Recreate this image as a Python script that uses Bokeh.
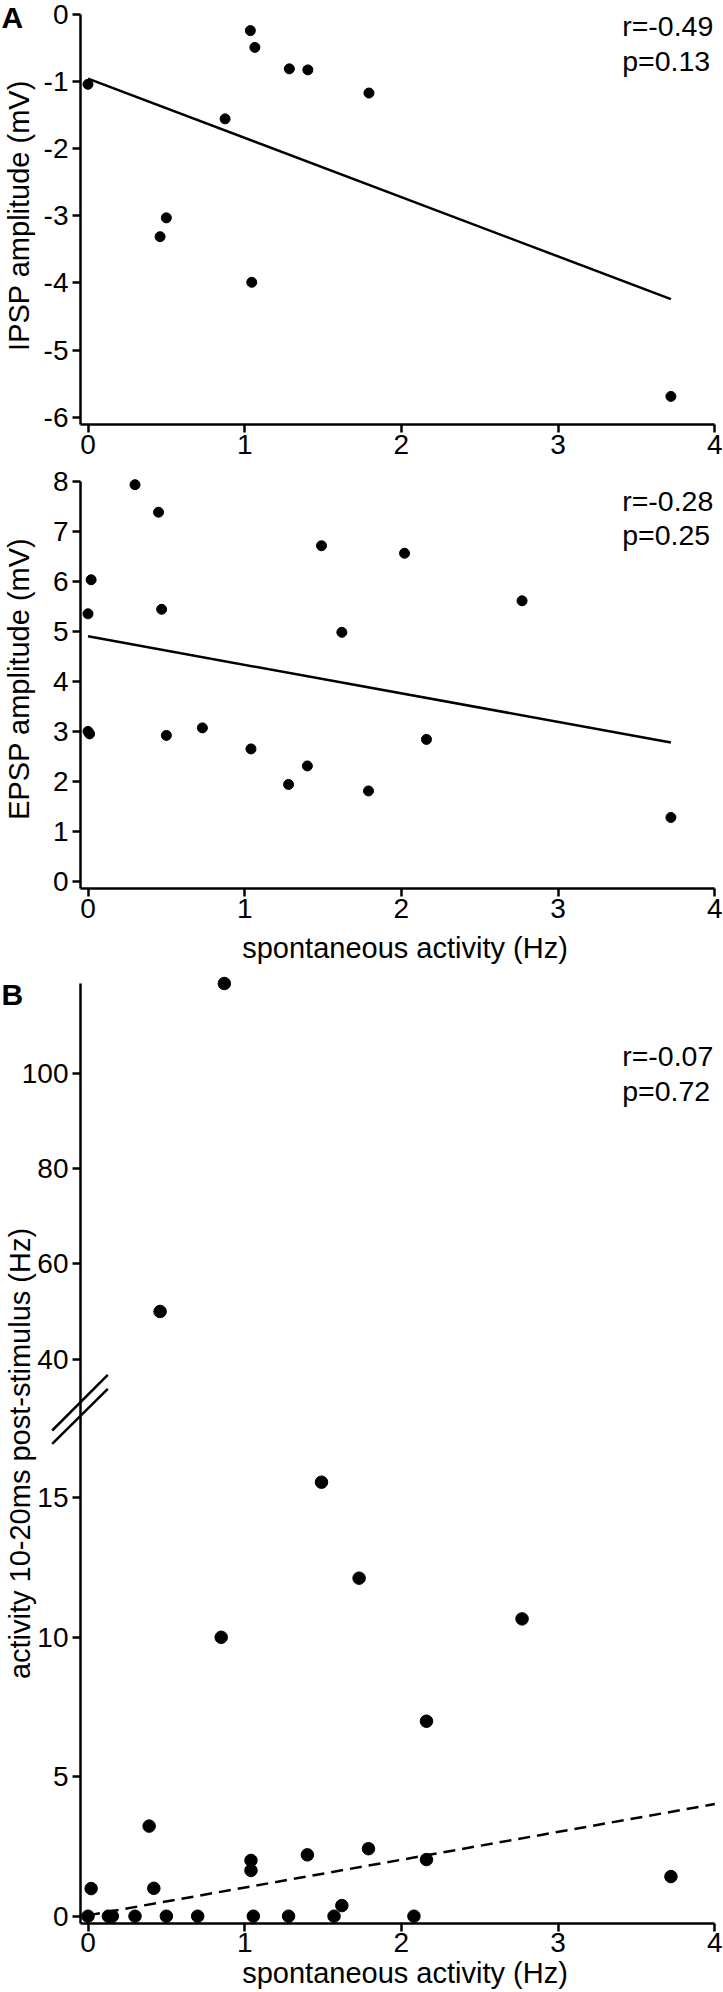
import math
from bokeh.plotting import figure
from bokeh.layouts import column
from bokeh.models import Range1d, FixedTicker, Label, Arrow
from bokeh.embed import file_html
from bokeh.resources import INLINE

FONT = "Liberation Sans"

# ---------------- data ----------------
x_ticks = [0, 1, 2, 3, 4]
x_tick_labels = ["0", "1", "2", "3", "4"]
x_title = "spontaneous activity (Hz)"

# A (top): IPSP amplitude vs spontaneous activity
ipsp_x = [0.0, 1.036, 1.065, 1.285, 1.403, 1.793, 0.875, 0.50, 0.46, 1.045, 3.72]
ipsp_y = [-1.04, -0.24, -0.49, -0.81, -0.825, -1.17, -1.555, -3.03, -3.31, -3.99, -5.69]
ipsp_fit_x = [0.0, 3.72]
ipsp_fit_y = [-0.955, -4.24]
ipsp_ticks = [0, -1, -2, -3, -4, -5, -6]
ipsp_tick_labels = ["0", "-1", "-2", "-3", "-4", "-5", "-6"]
ipsp_title = "IPSP amplitude (mV)"
ipsp_stats = ["r=-0.49", "p=0.13"]

# A (bottom): EPSP amplitude vs spontaneous activity
epsp_x = [0.30, 0.45, 0.02, 0.0, 0.47, 1.49, 2.02, 2.77, 1.62, 0.0, 0.01,
          0.50, 0.73, 1.04, 2.16, 1.40, 1.28, 1.79, 3.72]
epsp_y = [7.93, 7.38, 6.03, 5.35, 5.44, 6.71, 6.56, 5.61, 4.98, 3.00, 2.95,
          2.92, 3.07, 2.65, 2.84, 2.31, 1.94, 1.81, 1.28]
epsp_fit_x = [0.0, 3.72]
epsp_fit_y = [4.90, 2.78]
epsp_ticks = [0, 1, 2, 3, 4, 5, 6, 7, 8]
epsp_tick_labels = ["0", "1", "2", "3", "4", "5", "6", "7", "8"]
epsp_title = "EPSP amplitude (mV)"
epsp_stats = ["r=-0.28", "p=0.25"]

# B: activity 10-20 ms post-stimulus vs spontaneous activity (broken axis)
act_x = [0.87, 0.46, 1.49, 1.73, 2.77, 0.85, 2.16, 0.39, 1.79, 1.40, 1.04, 1.04,
         2.16, 3.72, 0.02, 0.42, 1.62, 0.0, 0.13, 0.155, 0.30, 0.50, 0.70, 1.055,
         1.28, 1.57, 2.08]
act_y = [119.0, 50.0, 15.56, 12.12, 10.66, 10.0, 6.99, 3.23, 2.42, 2.20, 2.00, 1.64,
         2.03, 1.42, 0.99, 1.00, 0.38, 0.0, 0.0, 0.0, 0.0, 0.0, 0.0, 0.0,
         0.0, 0.0, 0.0]
act_fit_x = [0.0, 4.0]
act_fit_y = [0.03, 4.02]
act_break = 30.0
act_low_ticks = [0, 5, 10, 15]
act_low_tick_labels = ["0", "5", "10", "15"]
act_high_ticks = [40, 60, 80, 100]
act_high_tick_labels = ["40", "60", "80", "100"]
act_title = "activity 10-20ms post-stimulus (Hz)"
act_stats = ["r=-0.07", "p=0.72"]

# ---------------- layout constants ----------------
LW = 2.5
W = 723
PX_PER_X = 156.7
X0_PX = 87.5                      # pixel column of x = 0
X_START = -X0_PX / PX_PER_X
X_END = X_START + W / PX_PER_X
Y_AXIS_AT = (80 - X0_PX) / PX_PER_X   # where the y axis line sits

H1, H2, H3 = 465, 510, 1017
Y1 = (-6.7193, 0.2086)
Y1_SPINE = -6.113
Y2 = (-1.878, 8.3137)
Y2_SPINE = -0.1455
LOW = (-2.736, 33.729)
UP = (-93.28, 120.685)
LOW_SPINE = -0.251


def to_low(v):
    return LOW[0] + (v - UP[0]) / (UP[1] - UP[0]) * (LOW[1] - LOW[0])


def make_fig(height, yr, y_spine):
    p = figure(width=W, height=height, x_range=Range1d(X_START, X_END),
               y_range=Range1d(*yr), output_backend="svg", toolbar_location=None,
               min_border=0, min_border_left=0, min_border_right=0,
               min_border_top=0, min_border_bottom=0)
    p.outline_line_color = None
    p.xgrid.visible = False
    p.ygrid.visible = False
    p.background_fill_color = "white"
    p.border_fill_color = "white"
    for ax in [p.xaxis[0], p.yaxis[0]]:
        ax.axis_line_width = LW
        ax.axis_line_color = "black"
        ax.major_tick_line_width = LW
        ax.major_tick_line_color = "black"
        ax.major_tick_out = 8
        ax.major_tick_in = 0
        ax.minor_tick_line_color = None
        ax.major_label_text_font = FONT
        ax.major_label_text_font_size = "28px"
        ax.major_label_text_color = "black"
    xa = p.xaxis[0]
    xa.fixed_location = y_spine
    xa.ticker = FixedTicker(ticks=x_ticks)
    xa.major_label_overrides = dict(zip(x_ticks, x_tick_labels))
    xa.bounds = (Y_AXIS_AT, max(x_ticks))
    xa.major_label_standoff = 2
    ya = p.yaxis[0]
    ya.fixed_location = Y_AXIS_AT
    ya.major_label_standoff = 4
    return p


def text_at(p, text, px, py, size="29px", align="left", angle=0.0, bold=False):
    p.add_layout(Label(x=p.x_range.start, y=p.y_range.end, x_offset=px, y_offset=-py,
                       text=text, text_font=FONT, text_font_size=size,
                       text_align=align, text_baseline="middle", angle=angle,
                       text_color="black",
                       text_font_style="bold" if bold else "normal"))


STAT_PX = 621.7
STAT_SIZE = "28.5px"
TITLE_X_PX = 404.5

# ---- Panel A top ----
p1 = make_fig(H1, Y1, Y1_SPINE)
p1.yaxis[0].ticker = FixedTicker(ticks=ipsp_ticks)
p1.yaxis[0].major_label_overrides = dict(zip(ipsp_ticks, ipsp_tick_labels))
p1.yaxis[0].bounds = (Y1_SPINE, max(ipsp_ticks))
p1.line(ipsp_fit_x, ipsp_fit_y, line_width=LW, line_color="black")
p1.scatter(ipsp_x, ipsp_y, size=10, color="black")
text_at(p1, ipsp_stats[0], STAT_PX, 25.2, size=STAT_SIZE)
text_at(p1, ipsp_stats[1], STAT_PX, 60.2, size=STAT_SIZE)
text_at(p1, ipsp_title, 18.5, 215, align="center", angle=math.pi / 2)
text_at(p1, "A", 1, 17, size="30px", bold=True)

# ---- Panel A bottom ----
p2 = make_fig(H2, Y2, Y2_SPINE)
p2.yaxis[0].ticker = FixedTicker(ticks=epsp_ticks)
p2.yaxis[0].major_label_overrides = dict(zip(epsp_ticks, epsp_tick_labels))
p2.yaxis[0].bounds = (Y2_SPINE, max(epsp_ticks))
p2.line(epsp_fit_x, epsp_fit_y, line_width=LW, line_color="black")
p2.scatter(epsp_x, epsp_y, size=10, color="black")
text_at(p2, epsp_stats[0], STAT_PX, 35.2, size=STAT_SIZE)
text_at(p2, epsp_stats[1], STAT_PX, 69.5, size=STAT_SIZE)
text_at(p2, epsp_title, 18.5, 213.3, align="center", angle=math.pi / 2)
text_at(p2, x_title, TITLE_X_PX, 482.2, align="center")

# ---- Panel B (broken axis) ----
p3 = make_fig(H3, LOW, LOW_SPINE)
p3.extra_y_ranges = {"upper": Range1d(*UP)}
ya = p3.yaxis[0]
b_ticks = act_low_ticks + [round(to_low(v), 6) for v in act_high_ticks]
b_labels = act_low_tick_labels + act_high_tick_labels
ya.ticker = FixedTicker(ticks=b_ticks)
ya.major_label_overrides = dict(zip(b_ticks, b_labels))
ya.bounds = (LOW_SPINE, to_low(118.9))

lo_x = [x for x, y in zip(act_x, act_y) if y < act_break]
lo_y = [y for y in act_y if y < act_break]
hi_x = [x for x, y in zip(act_x, act_y) if y >= act_break]
hi_y = [y for y in act_y if y >= act_break]
p3.line(act_fit_x, act_fit_y, line_width=LW, line_color="black", line_dash="12 7")
p3.scatter(lo_x, lo_y, size=12.5, color="black")
p3.scatter(hi_x, hi_y, size=12.5, color="black", y_range_name="upper")

# break marks on the y axis (two parallel diagonal strokes)
for y0, y1 in [(17.415, 19.412), (16.938, 18.91)]:
    p3.add_layout(Arrow(end=None, x_start=-0.2285, y_start=y0, x_end=0.1264, y_end=y1,
                        line_width=LW, line_color="black"))

text_at(p3, act_stats[0], STAT_PX, 80.2, size=STAT_SIZE)
text_at(p3, act_stats[1], STAT_PX, 115.2, size=STAT_SIZE)
text_at(p3, act_title, 19.5, 478, align="center", angle=math.pi / 2)
text_at(p3, x_title, TITLE_X_PX, 997, align="center")
text_at(p3, "B", 1, 19.2, size="30px", bold=True)

layout = column(p1, p2, p3, spacing=0)
open("out.html", "w").write(file_html(layout, INLINE))
